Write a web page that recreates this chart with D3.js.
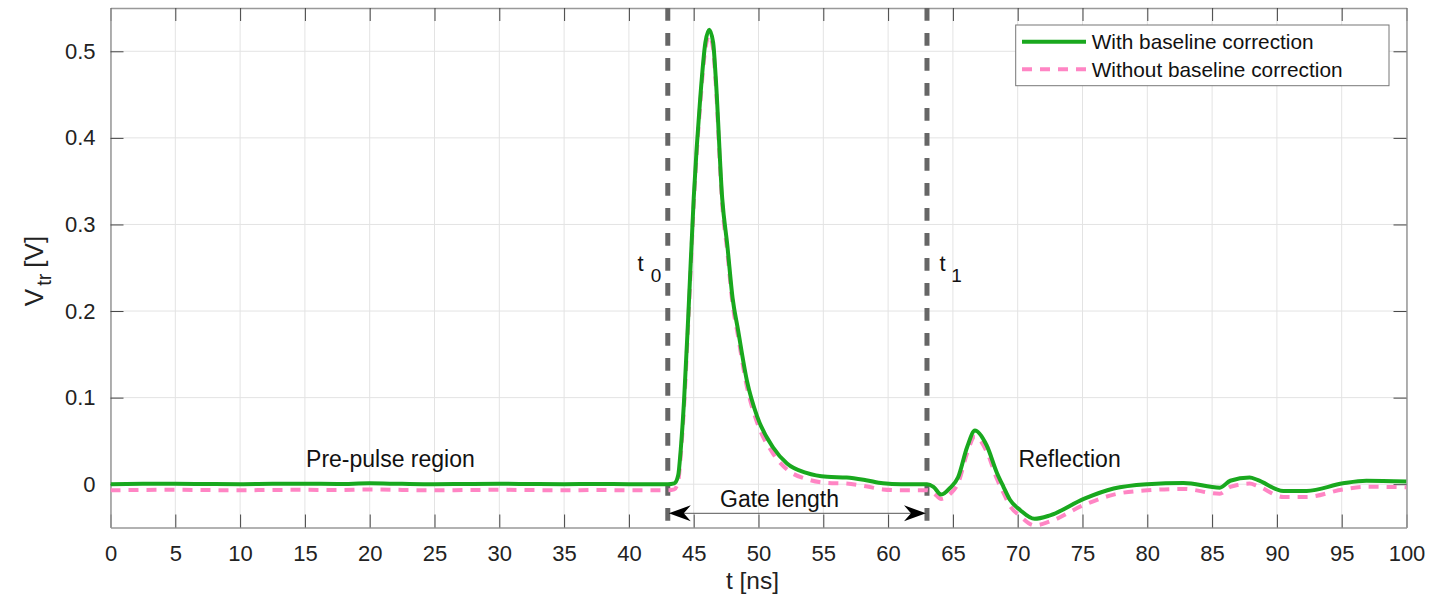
<!DOCTYPE html>
<html><head><meta charset="utf-8">
<script src="https://cdn.jsdelivr.net/npm/d3@7"></script>
<style>
html,body{margin:0;padding:0;background:#fff;}
svg{display:block;font-family:"Liberation Sans",Arial,Helvetica,sans-serif;}
</style></head>
<body><svg id="c" width="1429" height="596"></svg>
<script>
// ---- data ----
const timeNs = [0,2.5,5,7.5,10,12.5,15,17.5,20,22.5,25,27.5,30,32.5,35,37.5,40,42,43,43.5,43.8,44.0,44.25,44.6,45.0,45.5,45.9,46.2,46.5,46.7,47.2,47.6,48.0,48.4,49.1,49.9,51.1,52.2,53.7,55.3,56.8,58.3,59.6,61,63,63.5,64.1,64.8,65.4,66.1,66.7,67.6,68.4,68.9,69.4,70.2,71.3,72.5,75.1,77.4,80,82.8,85.6,86.4,87.9,88.5,90.5,92.3,95.1,96.9,100];
const withCorrection = [0.000,0.0004,0.0005,0.0002,0.000,0.0004,0.0005,0.0003,0.001,0.0004,0.000,0.0003,0.0005,0.0002,0.000,0.0003,0.000,0.000,0.000,0.001,0.010,0.040,0.095,0.200,0.330,0.445,0.510,0.525,0.510,0.470,0.330,0.275,0.215,0.180,0.120,0.078,0.043,0.024,0.013,0.0085,0.0077,0.0046,0.001,0.000,0.000,-0.003,-0.012,-0.004,0.008,0.043,0.062,0.045,0.013,-0.003,-0.018,-0.030,-0.040,-0.036,-0.017,-0.005,0.000,0.0015,-0.004,0.004,0.0077,0.005,-0.0077,-0.0077,0.001,0.004,0.003];
const withoutCorrection = [-0.007,-0.0066,-0.0065,-0.0068,-0.007,-0.0066,-0.0065,-0.0067,-0.006,-0.0066,-0.007,-0.0067,-0.0065,-0.0068,-0.007,-0.0067,-0.007,-0.007,-0.007,-0.006,0.003,0.033,0.088,0.193,0.323,0.438,0.503,0.518,0.503,0.463,0.323,0.268,0.208,0.173,0.113,0.071,0.036,0.017,0.006,0.0015,0.0007,-0.0024,-0.006,-0.007,-0.007,-0.010,-0.017,-0.011,0.001,0.036,0.055,0.038,0.006,-0.010,-0.025,-0.037,-0.0475,-0.043,-0.024,-0.012,-0.007,-0.0055,-0.011,-0.003,0.0007,-0.002,-0.0147,-0.0147,-0.006,-0.003,-0.0035];
const xTicks = [0,5,10,15,20,25,30,35,40,45,50,55,60,65,70,75,80,85,90,95,100];
const yTicks = [0,0.1,0.2,0.3,0.4,0.5];
const gateTimes = [43,63];
const gateLabels = ["0","1"];
const seriesNames = ["With baseline correction","Without baseline correction"];
const annotations = [
  {text:"Pre-pulse region", t:21.6, v:0.0199},
  {text:"Reflection", t:74.0, v:0.0199}
];

// ---- layout ----
const L=110.5, R=1406.5, T=8, B=527.5;
const svg = d3.select("#c");
const x = d3.scaleLinear().domain([0,100]).range([L,R]);
const y = d3.scaleLinear().domain([-0.05,0.55]).range([B,T]);
const green="#19a81e", pink="#ff85c4";

// grid
svg.append("g").selectAll("line").data(xTicks).join("line")
  .attr("x1",d=>x(d)).attr("x2",d=>x(d)).attr("y1",T).attr("y2",B)
  .attr("stroke","#e3e3e3").attr("stroke-width",1);
svg.append("g").selectAll("line").data(yTicks).join("line")
  .attr("x1",L).attr("x2",R).attr("y1",d=>y(d)).attr("y2",d=>y(d))
  .attr("stroke","#e3e3e3").attr("stroke-width",1);

// axes (ticks inside, box)
function styleAxis(g){
  g.select(".domain").attr("stroke","#999").attr("stroke-width",1.5);
  g.selectAll(".tick line").attr("stroke","#444").attr("stroke-width",1);
  g.selectAll(".tick text").attr("fill","#222").attr("font-size",22)
    .attr("font-family","'Liberation Sans',Arial,sans-serif");
}
svg.append("g").attr("transform",`translate(0,${B})`)
  .call(d3.axisBottom(x).tickValues(xTicks).tickFormat(d3.format("d")).tickSizeInner(-13).tickSizeOuter(0).tickPadding(18))
  .call(styleAxis);
svg.append("g").attr("transform",`translate(0,${T})`)
  .call(d3.axisTop(x).tickValues(xTicks).tickFormat("").tickSizeInner(-13).tickSizeOuter(0))
  .call(styleAxis);
svg.append("g").attr("transform",`translate(${L},0)`)
  .call(d3.axisLeft(y).tickValues(yTicks).tickFormat(d=>d===0?"0":d3.format(".1f")(d)).tickSizeInner(-13).tickSizeOuter(0).tickPadding(15))
  .call(styleAxis);
svg.append("g").attr("transform",`translate(${R},0)`)
  .call(d3.axisRight(y).tickValues(yTicks).tickFormat("").tickSizeInner(-13).tickSizeOuter(0))
  .call(styleAxis);

// clip
svg.append("clipPath").attr("id","clip").append("rect")
  .attr("x",L).attr("y",T).attr("width",R-L).attr("height",B-T);

const plot = svg.append("g").attr("clip-path","url(#clip)");
const line = d3.line().x(d=>x(d[0])).y(d=>y(d[1])).curve(d3.curveMonotoneX);

// gate lines
plot.selectAll("line.gate").data(gateTimes).join("line").attr("class","gate")
  .attr("x1",d=>x(d)).attr("x2",d=>x(d)).attr("y1",T).attr("y2",B)
  .attr("stroke","#666").attr("stroke-width",5).attr("stroke-dasharray","12.7,12.3");

plot.append("path").datum(timeNs.map((t,i)=>[t,withoutCorrection[i]]))
  .attr("d",line).attr("fill","none").attr("stroke",pink).attr("stroke-width",4)
  .attr("stroke-dasharray","10,8");
plot.append("path").datum(timeNs.map((t,i)=>[t,withCorrection[i]]))
  .attr("d",line).attr("fill","none").attr("stroke",green).attr("stroke-width",4)
  .attr("stroke-linejoin","round");

// gate arrow
const ay = 513.3;
const xa = x(gateTimes[0])+1, xb = x(gateTimes[1])-1;
svg.append("line").attr("x1",xa+10).attr("x2",xb-10).attr("y1",ay).attr("y2",ay)
  .attr("stroke","#555").attr("stroke-width",1);
svg.append("path").attr("d",`M${xa},${ay} L${xa+22},${ay-8} L${xa+15},${ay} L${xa+22},${ay+8} Z`).attr("fill","#000");
svg.append("path").attr("d",`M${xb},${ay} L${xb-22},${ay-8} L${xb-15},${ay} L${xb-22},${ay+8} Z`).attr("fill","#000");
svg.append("text").attr("x",779.5).attr("y",506.7)
  .attr("text-anchor","middle").attr("font-size",23).attr("fill","#111").text("Gate length");

// t0 / t1 labels
const tl = svg.selectAll("text.tl").data(gateTimes).join("text").attr("class","tl")
  .attr("x",(d,i)=> i===0 ? 637.5 : 939.5).attr("y",270.5).attr("font-size",22).attr("fill","#111");
tl.append("tspan").text("t");
tl.append("tspan").attr("dx",(d,i)=>i===0?7:5.5).attr("dy",11).attr("font-size",19).text((d,i)=>gateLabels[i]);

// annotations
svg.selectAll("text.ann").data(annotations).join("text").attr("class","ann")
  .attr("x",d=>x(d.t)).attr("y",d=>y(d.v)).attr("text-anchor","middle")
  .attr("font-size",23).attr("fill","#111").text(d=>d.text);

// axis labels
svg.append("text").attr("x",752.5).attr("y",589).attr("text-anchor","middle")
  .attr("font-size",24.5).attr("fill","#222").text("t [ns]");
const yl = svg.append("text").attr("transform","translate(43,271) rotate(-90)")
  .attr("text-anchor","middle").attr("font-size",26).attr("fill","#222");
yl.append("tspan").text("V");
yl.append("tspan").attr("dx",3).attr("dy",8).attr("font-size",20).text("tr");
yl.append("tspan").attr("dx",6).attr("dy",-8).text("[V]");

// legend
const lg = svg.append("g");
lg.append("rect").attr("x",1015.7).attr("y",25).attr("width",373.3).attr("height",60.7)
  .attr("fill","#fff").attr("stroke","#777").attr("stroke-width",1);
const rows = [{c:green,dash:null,y:41.7},{c:pink,dash:"10,8",y:69.3}];
rows.forEach((r,i)=>{
  lg.append("line").attr("x1",1022).attr("x2",1086).attr("y1",r.y).attr("y2",r.y)
    .attr("stroke",r.c).attr("stroke-width",4).attr("stroke-dasharray",r.dash);
  lg.append("text").attr("x",1091.7).attr("y",r.y).attr("dy","0.35em")
    .attr("font-size",20.8).attr("fill","#111").text(seriesNames[i]);
});
</script></body></html>
